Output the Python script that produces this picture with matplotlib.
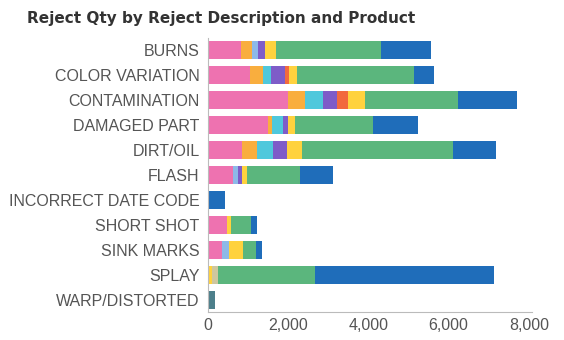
import numpy as np
import matplotlib
matplotlib.use("Agg")
import matplotlib.pyplot as plt

# reject descriptions (top to bottom)
categories = ["BURNS", "COLOR VARIATION", "CONTAMINATION", "DAMAGED PART", "DIRT/OIL",
              "FLASH", "INCORRECT DATE CODE", "SHORT SHOT", "SINK MARKS", "SPLAY",
              "WARP/DISTORTED"]

# reject qty per product, stacked left to right
product_a = [820, 1050, 1990, 1500, 850, 620, 0, 470, 350, 0, 0]
product_b = [280, 320, 430, 100, 370, 0, 0, 0, 0, 0, 0]
product_c = [150, 0, 0, 0, 0, 130, 0, 0, 170, 0, 0]
product_d = [0, 200, 450, 270, 400, 0, 0, 0, 0, 0, 0]
product_e = [170, 350, 350, 130, 350, 100, 0, 0, 0, 0, 0]
product_f = [0, 100, 270, 0, 0, 0, 0, 0, 0, 0, 0]
product_g = [280, 200, 430, 170, 370, 120, 0, 100, 350, 100, 0]
product_h = [0, 0, 0, 0, 0, 0, 0, 0, 0, 150, 0]
product_i = [2610, 2920, 2310, 1950, 3770, 1320, 0, 500, 330, 2420, 0]
product_j = [1250, 500, 1470, 1120, 1070, 830, 420, 160, 150, 4460, 0]
product_k = [0, 0, 0, 0, 0, 0, 0, 0, 0, 0, 170]

series = [product_a, product_b, product_c, product_d, product_e, product_f,
          product_g, product_h, product_i, product_j, product_k]
colors = ["#EE72B0", "#F9AE3E", "#8DB9E8", "#4FC8DC", "#7E5CC8", "#F26A3E",
          "#FFD23E", "#CFC79E", "#5BB67D", "#1F6DBA", "#4D7F8B"]

fig = plt.figure(figsize=(5.64, 3.4), dpi=100)
ax = fig.add_axes([0.3688, 0.0809, 0.5745, 0.8088])

y = np.arange(len(categories))
left = np.zeros(len(categories))
for vals, col in zip(series, colors):
	vals = np.array(vals, dtype=float)
	ax.barh(y, vals, left=left, height=0.7, color=col, linewidth=0)
	left += vals

ax.set_ylim(len(categories) - 0.5, -0.5)
ax.set_xlim(0, 8080)
ax.set_xticks([0, 2000, 4000, 6000, 8000])
ax.set_xticklabels(["0", "2,000", "4,000", "6,000", "8,000"])
ax.set_yticks(y)
ax.set_yticklabels(categories)

for lab in ax.get_yticklabels() + ax.get_xticklabels():
	lab.set_fontfamily("Liberation Sans")
	lab.set_fontsize(11.5)
	lab.set_color("#555555")
ax.tick_params(axis="y", length=0, pad=6)
ax.tick_params(axis="x", length=0, pad=4)

for s in ["top", "right"]:
	ax.spines[s].set_visible(False)
ax.spines["left"].set_color("#BBBBBB")
ax.spines["bottom"].set_color("#BBBBBB")

fig.text(0.047, 0.945, "Reject Qty by Reject Description and Product", fontsize=11,
         fontweight="bold", color="#333333", ha="left", va="center")

fig.savefig("out.png", dpi=100)
